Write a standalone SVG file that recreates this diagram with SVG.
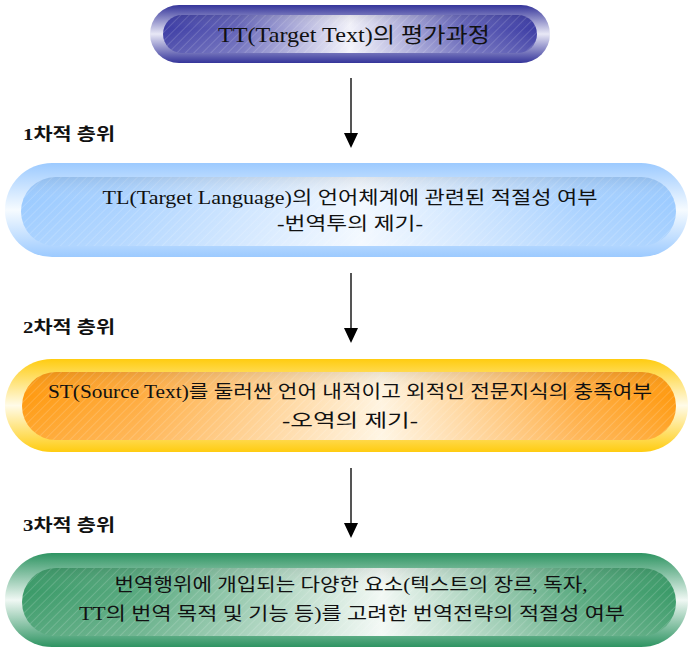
<svg xmlns="http://www.w3.org/2000/svg" width="690" height="650" viewBox="0 0 690 650">
<defs>
  <linearGradient id="outP" x1="0" y1="0" x2="0" y2="1">
    <stop offset="0" stop-color="#34349a"/><stop offset="0.5" stop-color="#e8e8f6"/><stop offset="1" stop-color="#34349a"/>
  </linearGradient>
  <linearGradient id="inP" x1="0" y1="0" x2="1" y2="0">
    <stop offset="0" stop-color="#3c3ca4"/><stop offset="0.2" stop-color="#6464b8"/><stop offset="0.5" stop-color="#f2f2fa"/><stop offset="0.8" stop-color="#6464b8"/><stop offset="1" stop-color="#3c3ca4"/>
  </linearGradient>
  <linearGradient id="outB" x1="0" y1="0" x2="0" y2="1">
    <stop offset="0" stop-color="#9ccaff"/><stop offset="0.5" stop-color="#f6fbff"/><stop offset="1" stop-color="#9ccaff"/>
  </linearGradient>
  <linearGradient id="inB" x1="0" y1="0" x2="1" y2="0">
    <stop offset="0" stop-color="#9ccbff"/><stop offset="0.15" stop-color="#aad2ff"/><stop offset="0.52" stop-color="#f2f8ff"/><stop offset="0.85" stop-color="#aad2ff"/><stop offset="1" stop-color="#9ccbff"/>
  </linearGradient>
  <linearGradient id="outO" x1="0" y1="0" x2="0" y2="1">
    <stop offset="0" stop-color="#ffcc10"/><stop offset="0.5" stop-color="#fffbe8"/><stop offset="1" stop-color="#ffcc10"/>
  </linearGradient>
  <linearGradient id="inO" x1="0" y1="0" x2="1" y2="0">
    <stop offset="0" stop-color="#ff9a10"/><stop offset="0.18" stop-color="#ffac40"/><stop offset="0.55" stop-color="#fff4e0"/><stop offset="0.85" stop-color="#ffac40"/><stop offset="1" stop-color="#ff9a10"/>
  </linearGradient>
  <linearGradient id="outG" x1="0" y1="0" x2="0" y2="1">
    <stop offset="0" stop-color="#2e9462"/><stop offset="0.5" stop-color="#f0f8f4"/><stop offset="1" stop-color="#2e9462"/>
  </linearGradient>
  <linearGradient id="inG" x1="0" y1="0" x2="1" y2="0">
    <stop offset="0" stop-color="#3a9a68"/><stop offset="0.18" stop-color="#5aaa80"/><stop offset="0.55" stop-color="#f2f8f4"/><stop offset="0.85" stop-color="#5aaa80"/><stop offset="1" stop-color="#3a9a68"/>
  </linearGradient>
  <linearGradient id="shade" x1="0" y1="0" x2="0" y2="1">
    <stop offset="0" stop-color="#000" stop-opacity="0.08"/><stop offset="0.35" stop-color="#fff" stop-opacity="0"/><stop offset="1" stop-color="#fff" stop-opacity="0.15"/>
  </linearGradient>
  <pattern id="hatch" width="6" height="6" patternUnits="userSpaceOnUse" patternTransform="rotate(45)">
    <line x1="0" y1="0" x2="0" y2="6" stroke="#ffffff" stroke-width="1" stroke-opacity="0.3"/>
  </pattern>
  <marker id="ah" markerUnits="userSpaceOnUse" markerWidth="16" markerHeight="16" viewBox="0 -8 16 16" refX="0" refY="0" orient="auto">
    <path d="M0,-7 L15,0 L0,7 z" fill="#000"/>
  </marker>
</defs>
<style>
  .t { font-family: "Liberation Serif", "Noto Sans CJK KR", serif; font-size: 18px; fill: #111; text-anchor: middle; }
  .tt { font-family: "Liberation Serif", "Noto Sans CJK KR", serif; font-size: 21px; fill: #111; text-anchor: middle; }
  .lb { font-family: "Liberation Serif", "Noto Sans CJK KR", serif; font-size: 17px; font-weight: bold; fill: #111; }
  .cn { stroke: #555; stroke-width: 2; fill: none; marker-end: url(#ah); }
  .h { fill: url(#hatch); }
  .s { fill: url(#shade); }
</style>

<g id="title">
  <rect x="150" y="5" width="400" height="58" rx="29" fill="url(#outP)"/>
  <rect x="163" y="15" width="374" height="38" rx="19" fill="url(#inP)"/>
  <rect x="163" y="15" width="374" height="38" rx="19" class="h"/>
  <rect x="163" y="15" width="374" height="38" rx="19" class="s"/>
  <text class="tt" x="354" y="42" textLength="272" lengthAdjust="spacingAndGlyphs">TT(Target Text)의 평가과정</text>
</g>

<g id="level1">
  <rect x="5" y="163" width="683" height="94" rx="47" fill="url(#outB)"/>
  <rect x="21" y="177" width="655" height="69" rx="34.5" fill="url(#inB)"/>
  <rect x="21" y="177" width="655" height="69" rx="34.5" class="h"/>
  <rect x="21" y="177" width="655" height="69" rx="34.5" class="s"/>
  <text class="t" x="350" y="204" textLength="495" lengthAdjust="spacingAndGlyphs">TL(Target Language)의 언어체계에 관련된 적절성 여부</text>
  <text class="t" x="350" y="230" textLength="146" lengthAdjust="spacingAndGlyphs">-번역투의 제기-</text>
</g>

<g id="level2">
  <rect x="5" y="359" width="683" height="93" rx="46.5" fill="url(#outO)"/>
  <rect x="22" y="372" width="654" height="68" rx="34" fill="url(#inO)"/>
  <rect x="22" y="372" width="654" height="68" rx="34" class="h"/>
  <rect x="22" y="372" width="654" height="68" rx="34" class="s"/>
  <text class="t" x="350" y="398" textLength="604" lengthAdjust="spacingAndGlyphs">ST(Source Text)를 둘러싼 언어 내적이고 외적인 전문지식의 충족여부</text>
  <text class="t" x="350" y="427" textLength="136" lengthAdjust="spacingAndGlyphs">-오역의 제기-</text>
</g>

<g id="level3">
  <rect x="5" y="553" width="683" height="94" rx="47" fill="url(#outG)"/>
  <rect x="22" y="568" width="654" height="68" rx="34" fill="url(#inG)"/>
  <rect x="22" y="568" width="654" height="68" rx="34" class="h"/>
  <rect x="22" y="568" width="654" height="68" rx="34" class="s"/>
  <text class="t" x="351" y="591" textLength="473" lengthAdjust="spacingAndGlyphs">번역행위에 개입되는 다양한 요소(텍스트의 장르, 독자,</text>
  <text class="t" x="352" y="620" textLength="546" lengthAdjust="spacingAndGlyphs">TT의 번역 목적 및 기능 등)를 고려한 번역전략의 적절성 여부</text>
</g>

<g id="labels">
  <text class="lb" x="23" y="140" textLength="92" lengthAdjust="spacingAndGlyphs">1차적 층위</text>
  <text class="lb" x="23" y="333" textLength="92" lengthAdjust="spacingAndGlyphs">2차적 층위</text>
  <text class="lb" x="23" y="531" textLength="92" lengthAdjust="spacingAndGlyphs">3차적 층위</text>
</g>

<g id="connectors">
  <line class="cn" x1="351" y1="78" x2="351" y2="133"/>
  <line class="cn" x1="351" y1="273" x2="351" y2="328"/>
  <line class="cn" x1="351" y1="468" x2="351" y2="523"/>
</g>
</svg>
